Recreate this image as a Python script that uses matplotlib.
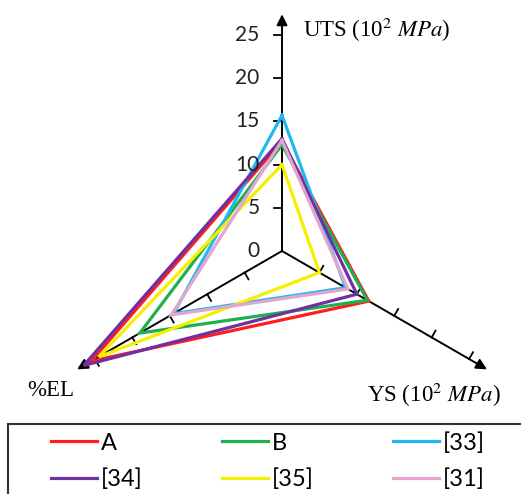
import numpy as np
import matplotlib
matplotlib.use("Agg")
from matplotlib import pyplot as plt
from matplotlib.patches import Rectangle

plt.rcParams['mathtext.fontset'] = 'stix'

labels = ['A', 'B', '[33]', '[34]', '[35]', '[31]']
colors = ['#FF1E1E', '#1FAF4C', '#22B8EE', '#7030A0', '#F5F000', '#E3A5CD']
uts = [12.7, 12.3, 15.7, 13.0, 10.0, 12.8]
ys = [11.6, 11.4, 8.5, 10.0, 5.0, 8.8]
el = [25.5, 19.0, 14.5, 26.5, 24.5, 14.8]

ticks = [0, 5, 10, 15, 20, 25]
axis_names = ['UTS (10$^2$ $MPa$)', 'YS (10$^2$ $MPa$)', '%EL']
angles = np.deg2rad([90, -30, 210])
arrow_len = 27.4

fig = plt.figure(figsize=(5.21, 4.94), dpi=100)
ax = fig.add_axes([0, 0, 1, 1])
ax.set_xlim(-32.64, 27.66)
ax.set_ylim(-28.125, 29.05)
ax.axis('off')

# axes with arrows and ticks
for a in angles:
    d = np.array([np.cos(a), np.sin(a)])
    p = np.array([-d[1], d[0]])  # left side of the axis
    ax.annotate('', xy=d * arrow_len, xytext=(0, 0),
                arrowprops=dict(arrowstyle='-|>', lw=1.4, color='black',
                                mutation_scale=16, shrinkA=0, shrinkB=0),
                zorder=1)
    for t in ticks[1:]:
        q = d * t
        ax.plot([q[0], q[0] + p[0] * 0.9], [q[1], q[1] + p[1] * 0.9],
                color='black', lw=1.3, zorder=1)

for t in ticks:
    ax.text(-2.6, t, str(t), ha='right', va='center', fontsize=15,
            family='Lato', color='#222222')

# series
lines = []
for lab, c, u, y, e in zip(labels, colors, uts, ys, el):
    vals = np.array([u, y, e, u])
    ang = np.append(angles, angles[0])
    ln, = ax.plot(vals * np.cos(ang), vals * np.sin(ang), color=c, lw=2.3,
                  label=lab, zorder=2, solid_joinstyle='miter')
    lines.append(ln)

ax.text(2.4, 25.6, axis_names[0], ha='left', va='center', fontsize=16.5,
        family='Liberation Serif')
ax.text(9.8, -16.7, axis_names[1], ha='left', va='center', fontsize=16.5,
        family='Liberation Serif')
ax.text(-29.5, -16.1, axis_names[2], ha='left', va='center', fontsize=16.5,
        family='Liberation Serif')

# legend box (runs past the right and bottom edges)
fig.patches.append(Rectangle((8 / 521, -0.05), 1.1, 1 - 424 / 494 + 0.05,
                             transform=fig.transFigure, fill=False,
                             edgecolor='#333333', lw=1.5))
# legend fills by column, so reorder to read row by row
order = [0, 3, 1, 4, 2, 5]
fig.legend([lines[i] for i in order], [labels[i] for i in order],
           loc='upper left', bbox_to_anchor=(51 / 521, 1 - 432 / 494),
           ncol=3, frameon=False, handlelength=1.95,
           handletextpad=0.17, columnspacing=3.35, labelspacing=0.62,
           borderpad=0, borderaxespad=0,
           prop={'family': 'Lato', 'size': 17})

fig.savefig('out.png', dpi=100)
